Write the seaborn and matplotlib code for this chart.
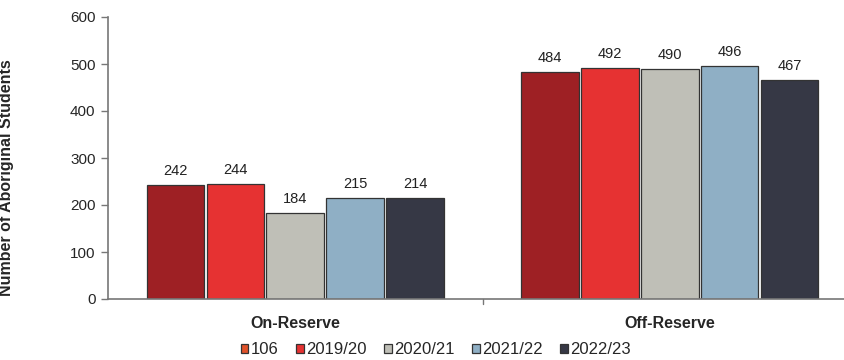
import pandas as pd
import seaborn as sns
import matplotlib.pyplot as plt
from matplotlib.patches import Patch

categories = ["On-Reserve", "Off-Reserve"]
years = ["2018/19", "2019/20", "2020/21", "2021/22", "2022/23"]
legend_labels = ["106", "2019/20", "2020/21", "2021/22", "2022/23"]
on_reserve = [242, 244, 184, 215, 214]
off_reserve = [484, 492, 490, 496, 467]

colors = ["#9e2024", "#e63232", "#bfbfb7", "#8fafc5", "#363845"]
legend_colors = ["#e0522a", "#e63232", "#bfbfb7", "#8fafc5", "#363845"]

rows = []
for y, a, b in zip(years, on_reserve, off_reserve):
    rows.append({"cat": categories[0], "year": y, "n": a})
    rows.append({"cat": categories[1], "year": y, "n": b})
df = pd.DataFrame(rows)

sns.set_style("white")
plt.rcParams["font.family"] = ["Liberation Sans", "DejaVu Sans"]

fig = plt.figure(figsize=(8.44, 3.6), dpi=100)
ax = fig.add_axes([108 / 844, 61 / 360, 749 / 844, 282 / 360])

sns.barplot(data=df, x="cat", y="n", hue="year", order=categories,
            hue_order=years, palette=colors, saturation=1, width=0.8, gap=0.04,
            edgecolor="#333333", linewidth=0.9, legend=False, ax=ax)

for c in ax.containers:
    ax.bar_label(c, fmt="%d", padding=5, fontsize=10.5, color="#222222")

ax.set_ylim(0, 600)
ax.set_xlim(-0.5, 1.5)
ax.set_yticks(range(0, 601, 100))
ax.tick_params(axis="y", direction="out", length=5, width=1, color="#777777",
               labelsize=11, pad=4, left=True)
ax.set_xticks([0, 1])
ax.set_xticklabels(categories, fontsize=11.5, fontweight="bold")
ax.tick_params(axis="x", length=0, pad=12)
ax.axvline(0.5, ymin=-0.018, ymax=0, color="#777777", lw=1, clip_on=False)
ax.set_xlabel("")
ax.set_ylabel("Number of Aboriginal Students", fontsize=11.5, fontweight="bold")
ax.yaxis.set_label_coords(-0.1255, 0.43)
for s in ["top", "right"]:
    ax.spines[s].set_visible(False)
for s in ["left", "bottom"]:
    ax.spines[s].set_color("#777777")
    ax.spines[s].set_linewidth(1.2)

handles = [Patch(facecolor=c, edgecolor="#333333", linewidth=0.9) for c in legend_colors]
fig.legend(handles, legend_labels, loc="center", bbox_to_anchor=(436 / 844, 10 / 360),
           ncol=5, frameon=False, fontsize=12, handlelength=0.45, handleheight=0.45,
           handletextpad=0.15, columnspacing=1.05)

fig.savefig("out.png", dpi=100)
